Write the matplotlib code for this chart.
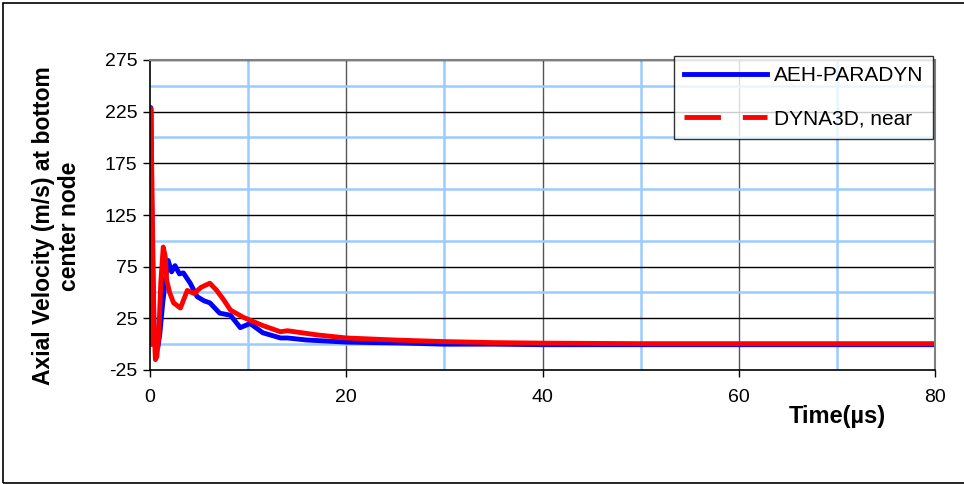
import numpy as np
import matplotlib.pyplot as plt
from matplotlib.patches import Rectangle

plt.rcParams['font.family'] = ['Liberation Sans', 'DejaVu Sans']
plt.rcParams['axes.unicode_minus'] = False

# AEH-PARADYN (blue)
t_aeh = [0, 0.08, 0.15, 0.3, 0.45, 0.6, 0.8, 1.0, 1.3, 1.6, 1.85, 2.2, 2.55, 3.0,
         3.4, 4.1, 4.8, 5.5, 6.1, 7.1, 8.2, 9.2, 10.2, 11.5, 13.3, 14.0, 16, 18,
         20, 23, 26, 30, 35, 40, 50, 60, 70, 80]
v_aeh = [0, 229, 150, 60, 5, -5, -3, 10, 40, 65, 81, 70, 76, 68,
         69, 59, 46, 42, 40, 30, 28, 16, 20, 11, 6, 6, 4, 3,
         2, 1.5, 1, 0, 0, -0.5, -0.5, -0.5, -0.5, -0.5]

# DYNA3D, near (red)
t_dyna = [0, 0.08, 0.15, 0.25, 0.4, 0.55, 0.7, 0.9, 1.1, 1.35, 1.55, 1.7, 2.0,
          2.4, 3.1, 3.8, 4.5, 5.2, 6.1, 6.8, 7.5, 8.2, 9.5, 11.5, 13.3, 14, 17,
          20, 25, 30, 35, 40, 50, 60, 70, 80]
v_dyna = [0, 228, 190, 120, 20, -15, -12, 10, 60, 94, 85, 62, 50,
          40, 35, 52, 49, 55, 59, 52, 43, 33, 26, 18, 12, 13, 9,
          6, 4, 2.5, 1.5, 1, 0.5, 0.5, 0.5, 0.5]

fig = plt.figure(figsize=(9.64, 4.84), dpi=100)
ax = fig.add_axes([150/964, 1 - 370/484, (935 - 150)/964, (370 - 60)/484])

# grid: light blue minor lines, black major lines
for x in [10, 30, 50, 70]:
    ax.axvline(x, color='#99CCFF', lw=1.8, zorder=0)
for x in [20, 40, 60]:
    ax.axvline(x, color='#555555', lw=1.0, zorder=0)
for y in [0, 50, 100, 150, 200, 250]:
    ax.axhline(y, color='#99CCFF', lw=1.8, zorder=0)
for y in [25, 75, 125, 175, 225, 275]:
    ax.axhline(y, color='black', lw=1.0, zorder=0)

ax.plot(t_aeh, v_aeh, color='#0000FF', lw=3.5, label='AEH-PARADYN')
ax.plot(t_dyna, v_dyna, color='#FF0000', lw=3.5, label='DYNA3D, near')

ax.set_xlim(0, 80)
ax.set_ylim(-25, 275)
ax.set_xticks([0, 20, 40, 60, 80])
ax.set_yticks([-25, 25, 75, 125, 175, 225, 275])
ax.tick_params(direction='out', length=5, labelsize=14, width=1)
ax.tick_params(axis='x', pad=9)
ax.tick_params(axis='y', pad=4)

for s in ['left', 'bottom']:
    ax.spines[s].set_color('black')
    ax.spines[s].set_linewidth(1.2)
for s in ['right', 'top']:
    ax.spines[s].set_color('#808080')
    ax.spines[s].set_linewidth(1.5)

ax.set_ylabel('Axial Velocity (m/s) at bottom\ncenter node', fontsize=16.5,
              fontweight='bold', linespacing=1.15)
ax.yaxis.set_label_coords(-0.088, 0.465)
fig.text(837/964, 1 - 417/484, 'Time(\u00b5s)', fontsize=17, fontweight='bold',
         ha='center', va='center')

leg = ax.legend(loc='upper right', bbox_to_anchor=(0.998, 1.013), fontsize=15,
                frameon=True, fancybox=False, shadow=False, handlelength=4.0,
                labelspacing=1.15, borderpad=0.5, handletextpad=0.3,
                borderaxespad=0)
leg.get_frame().set_edgecolor('black')
leg.get_frame().set_linewidth(1.0)
leg.get_lines()[1].set_linestyle((0, (7.5, 4.5)))

fig.patches.append(Rectangle((3/964, 1.5/484), 1.0, 1 - 4.5/484,
                             transform=fig.transFigure, fill=False,
                             edgecolor='black', lw=1.2))

fig.savefig('out.png', dpi=100)
